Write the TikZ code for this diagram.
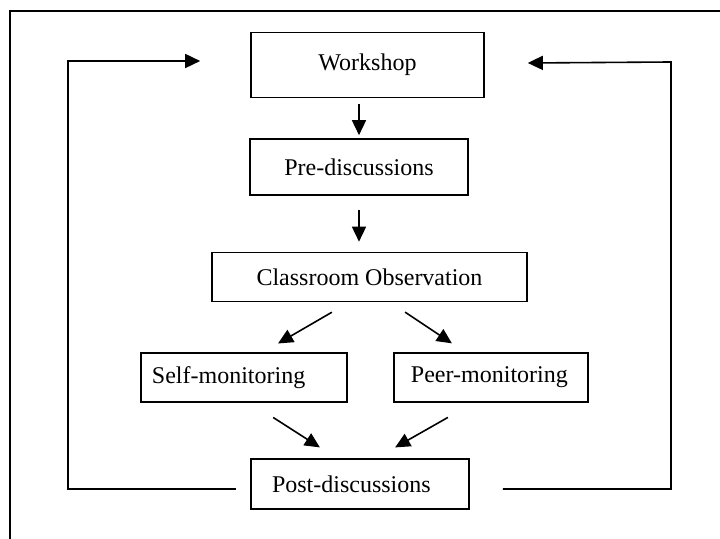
\documentclass[tikz,border=0pt]{standalone}
\usepackage{fontspec}
\setmainfont{Liberation Serif}
\usepackage{tikz}
\usetikzlibrary{positioning,arrows.meta}

\tikzset{
	stage/.style={rectangle, draw=black, line width=0.8pt, inner sep=0pt, font=\fontsize{12}{14}\selectfont},
	flow/.style={line width=0.8pt, -{Triangle[length=7.5pt, width=7pt]}}
}

\begin{document}
\begin{tikzpicture}[x=0.5pt, y=-0.5pt]
	\useasboundingbox (0,0) rectangle (720,539);
	\draw[line width=0.8pt] (720,11) -- (10,11) -- (10,539);

	\node (workshop) [stage, minimum width=116.5pt, minimum height=32.5pt] at (367.5,65) {Workshop};
	\node (prediscuss) [stage, minimum width=109pt, minimum height=28pt] at (359,167) {Pre-discussions};
	\node (observe) [stage, minimum width=157.5pt, minimum height=24.5pt] at (369.5,277) {Classroom Observation};
	\node (selfmon) [stage, minimum height=24.5pt, inner xsep=5.5pt, text width=92pt, align=left] at (244,377.5) {Self-monitoring};
	\node (peermon) [stage, minimum height=24.5pt, inner xsep=8.5pt, text width=80pt, align=left] at (491,377.5) {Peer-monitoring};
	\node (postdiscuss) [stage, minimum height=25pt, inner xsep=10.5pt, text width=88pt, align=left] at (360,484) {Post-discussions};

	\coordinate (backleft) at (68,61);
	\coordinate (backright) at (671,62);

	\draw[flow, shorten <=2.75pt, shorten >=1.5pt] (prediscuss.north |- workshop.south) -- (prediscuss.north);
	\draw[flow, shorten <=7pt, shorten >=5pt] (prediscuss.south) -- (prediscuss.south |- observe.north);
	\draw[flow, shorten <=9.9pt, shorten >=8.7pt] ([xshift=-10.25pt]observe.south) -- ([xshift=9.5pt]selfmon.north);
	\draw[flow, shorten <=8.9pt, shorten >=8pt] ([xshift=10.4pt]observe.south) -- ([xshift=-12.9pt]peermon.north);
	\draw[flow, shorten <=13.6pt, shorten >=10pt] ([xshift=3.15pt]selfmon.south) -- ([xshift=-11.65pt]postdiscuss.north);
	\draw[flow, shorten <=14.8pt, shorten >=10.9pt] ([xshift=-8.7pt]peermon.south) -- ([xshift=8.1pt]postdiscuss.north);

	% feedback loops back to the workshop
	\draw[flow] ([xshift=-7pt, yshift=-2.5pt]postdiscuss.west) -| (backleft) -- ([xshift=-25pt, yshift=2pt]workshop.west);
	\draw[flow] ([xshift=16.5pt, yshift=-2.5pt]postdiscuss.east) -| (backright) -- ([xshift=21.5pt, yshift=1pt]workshop.east);
\end{tikzpicture}
\end{document}
